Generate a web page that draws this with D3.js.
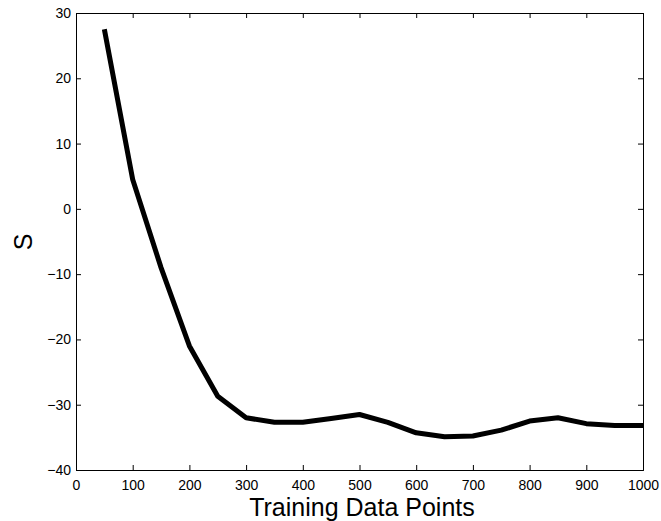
<!DOCTYPE html>
<html>
<head>
<meta charset="utf-8">
<script src="https://cdn.jsdelivr.net/npm/d3@7"></script>
<style>
body { margin: 0; background: #fff; }
text { font-family: "Liberation Sans", Arial, sans-serif; }
</style>
</head>
<body>
<svg id="svg" width="661" height="521"></svg>
<script>
var xVals = [50,100,150,200,250,300,350,400,450,500,550,600,650,700,750,800,850,900,950,1000];
var sVals = [27.5,4.5,-9,-21,-28.7,-32,-32.7,-32.7,-32.1,-31.5,-32.7,-34.3,-34.9,-34.8,-33.9,-32.5,-32,-32.9,-33.2,-33.2];
var xTicks = [0,100,200,300,400,500,600,700,800,900,1000];
var yTicks = [-40,-30,-20,-10,0,10,20,30];

var plotL = 76, plotR = 643, plotT = 13, plotB = 470;
var svg = d3.select("#svg");

var x = d3.scaleLinear().domain([0,1000]).range([plotL,plotR]);
var y = d3.scaleLinear().domain([-40,30]).range([plotB,plotT]);
var fmt = function(d){ return String(d).replace("-", "\u2212"); };

// box axes, ticks pointing inward
svg.append("g").attr("transform","translate(0,"+plotB+")")
  .call(d3.axisBottom(x).tickValues(xTicks).tickSize(-5).tickPadding(10).tickFormat(fmt));
svg.append("g").attr("transform","translate(0,"+plotT+")")
  .call(d3.axisTop(x).tickValues(xTicks).tickSize(-5).tickFormat(""));
svg.append("g").attr("transform","translate("+plotL+",0)")
  .call(d3.axisLeft(y).tickValues(yTicks).tickSize(-5).tickPadding(5).tickFormat(fmt));
svg.append("g").attr("transform","translate("+plotR+",0)")
  .call(d3.axisRight(y).tickValues(yTicks).tickSize(-5).tickFormat(""));

svg.selectAll(".domain").attr("stroke","#000");
svg.selectAll(".tick line").attr("stroke","#000");
svg.selectAll(".tick text").style("font-size","14px").attr("fill","#000");

var line = d3.line().x(function(d,i){ return x(xVals[i]); }).y(function(d){ return y(d); });
svg.append("path").datum(sVals)
  .attr("d", line)
  .attr("fill","none")
  .attr("stroke","#000")
  .attr("stroke-width",5)
  .attr("stroke-linejoin","round");

svg.append("text").attr("x",362).attr("y",516)
  .attr("text-anchor","middle").style("font-size","25px").text("Training Data Points");
svg.append("text").attr("transform","translate(32,242) rotate(-90)")
  .attr("text-anchor","middle").style("font-size","25px").text("S");
</script>
</body>
</html>
